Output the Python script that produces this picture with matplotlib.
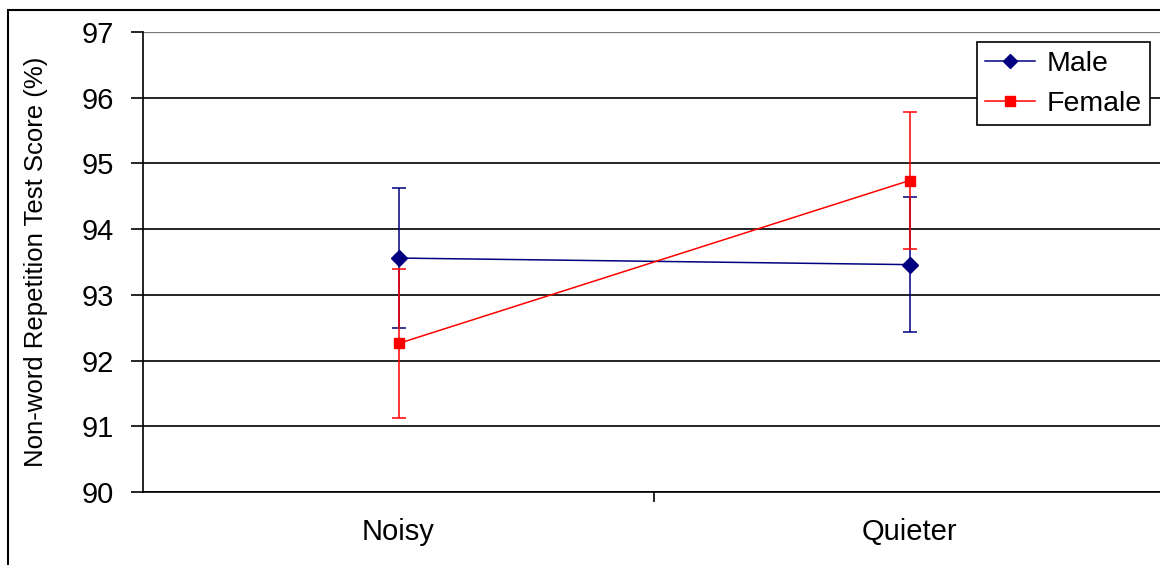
import matplotlib
matplotlib.use('Agg')
import matplotlib.pyplot as plt
from matplotlib.patches import Rectangle
from matplotlib.lines import Line2D

plt.rcParams['font.family'] = ['Liberation Sans', 'DejaVu Sans']

conditions = ['Noisy', 'Quieter']
male = [93.56, 93.46]
male_err = [1.06, 1.03]
female = [92.26, 94.74]
female_err = [1.14, 1.04]

fig = plt.figure(figsize=(11.6, 5.65), dpi=100)
ax = fig.add_axes([143/1160, 73/565, 1022/1160, 460/565])

xs = list(range(len(conditions)))
ax.errorbar(xs, male, yerr=male_err, color='#000080', marker='D', markersize=8,
            linewidth=1.1, elinewidth=1.1, capsize=5, capthick=1.1, zorder=3)
ax.errorbar(xs, female, yerr=female_err, color='#FF0000', marker='s', markersize=7,
            linewidth=1.1, elinewidth=1.1, capsize=5, capthick=1.1, zorder=3)

ax.set_xlim(-0.5, 1.5)
ax.set_ylim(90, 97)
ax.set_yticks(range(90, 98))
ax.set_xticks([0.5])
ax.set_xticklabels([''])
ax.set_xticks(xs, minor=True)
ax.set_xticklabels(conditions, minor=True)
ax.tick_params(axis='x', which='minor', length=0, pad=19, labelsize=21)
ax.tick_params(axis='x', which='major', length=7, width=1.2, direction='out')
ax.tick_params(axis='y', length=9, width=1.2, direction='out', labelsize=21, pad=12)

ax.grid(axis='y', color='black', linewidth=1.2)
ax.set_axisbelow(True)
for s in ['top', 'right']:
    ax.spines[s].set_visible(False)
ax.spines['left'].set_linewidth(1.2)
ax.spines['bottom'].set_linewidth(1.2)
ax.get_ygridlines()[-1].set_color('#777777')
ax.get_ygridlines()[-1].set_linewidth(1.6)

ax.set_ylabel('Non-word Repetition Test Score (%)', fontsize=18.5, labelpad=24)

handles = [Line2D([], [], color='#000080', marker='D', markersize=7, linewidth=1.1),
           Line2D([], [], color='#FF0000', marker='s', markersize=7, linewidth=1.1)]
leg = ax.legend(handles, ['Male', 'Female'], loc='upper right',
                bbox_to_anchor=(1150/1160, 1 - 42/565),
                bbox_transform=fig.transFigure, borderaxespad=0, fancybox=False,
                framealpha=1, edgecolor='black', fontsize=20.5, handlelength=1.75,
                borderpad=0.3, labelspacing=0.5, handletextpad=0.4)
leg.get_frame().set_linewidth(1.2)

fig.patches.append(Rectangle((8/1160, -0.1), 1.2, 555/565 + 0.1, transform=fig.transFigure,
                             fill=False, edgecolor='black', linewidth=1.5))

fig.savefig('out.png', dpi=100)
